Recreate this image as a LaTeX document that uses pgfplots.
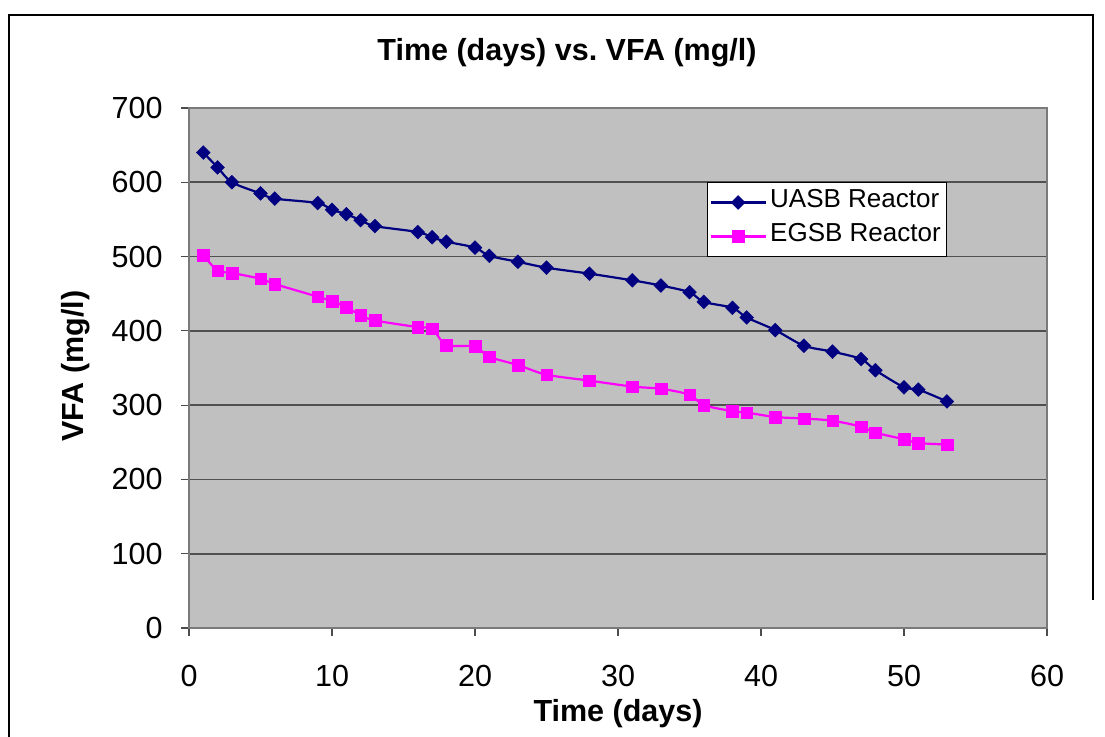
\documentclass[border=0pt]{standalone}
\usepackage{pgfplots}
\pgfplotsset{compat=1.18}
\usepackage{fontspec}
\setmainfont{Liberation Sans}
\definecolor{uasb}{HTML}{000080}
\definecolor{egsb}{HTML}{FF00FF}
\definecolor{plotbg}{HTML}{C0C0C0}
\definecolor{gridc}{HTML}{505050}
\definecolor{framec}{HTML}{7A7A7A}
\begin{document}
\begin{tikzpicture}[x=1bp,y=1bp]
\path[use as bounding box] (0,0) rectangle (1105,737);
\begin{axis}[
  at={(189bp,109bp)}, anchor=origin,
  scale only axis, width=858bp, height=520bp,
  xmin=0, xmax=60, ymin=0, ymax=700,
  xtick={0,10,...,60}, ytick={0,100,...,700},
  ymajorgrids,
  major grid style={gridc, line width=1.6bp},
  axis background/.style={fill=plotbg},
  axis line style={draw=framec, line width=1.6bp},
  tick style={black!70, line width=1.2bp},
  tick align=outside, major tick length=8bp,
  xtick pos=left, ytick pos=left,
  ticklabel style={font=\fontsize{30.5bp}{36bp}\selectfont},
  xticklabel style={yshift=-26bp},
  yticklabel style={xshift=-15bp},
  /pgf/number format/assume math mode=true,
  legend style={at={(0.6037,0.8577)}, anchor=north west, draw=black, line width=1bp,
    fill=white, font=\fontsize{26bp}{30bp}\selectfont,
    inner xsep=2bp, inner ysep=3bp,
    nodes={inner xsep=3.5bp, inner ysep=3bp, text height=19bp, text depth=9bp}},
  legend cell align=left,
  legend image code/.code={\draw[mark repeat=2, mark phase=2, #1] plot coordinates {(0bp,0bp) (27.5bp,0bp) (55bp,0bp)};},
]
\addplot[uasb, line width=2.2bp, smooth, mark=square*, mark size=4.9bp,
  mark options={solid, rotate=45, fill=uasb, line width=0.4bp}] coordinates {
(1,640) (2,620) (3,600) (5,585) (6,578) (9,572) (10,563) (11,557) (12,549) (13,541)
(16,533) (17,526) (18,520) (20,512) (21,501) (23,493) (25,485) (28,477) (31,468)
(33,461) (35,452) (36,439) (38,431) (39,418) (41,401) (43,380) (45,372) (47,362)
(48,347) (50,324) (51,321) (53,305)
};
\addlegendentry{UASB Reactor}
\addplot[egsb, line width=2.2bp, smooth, mark=square*, mark size=5.8bp,
  mark options={solid, fill=egsb, line width=0.4bp}] coordinates {
(1,502) (2,481) (3,478) (5,470) (6,463) (9,446) (10,440) (11,432) (12,421) (13,414)
(16,405) (17,403) (18,381) (20,379) (21,365) (23,354) (25,341) (28,333) (31,325)
(33,322) (35,314) (36,300) (38,292) (39,290) (41,284) (43,282) (45,279) (47,271)
(48,263) (50,254) (51,249) (53,247)
};
\addlegendentry{EGSB Reactor}
\end{axis}
\node[anchor=base, font=\bfseries\fontsize{30.5bp}{36bp}\selectfont] at (567,676) {Time (days) vs.\ VFA (mg/l)};
\node[anchor=base, font=\bfseries\fontsize{30.5bp}{36bp}\selectfont] at (618,15) {Time (days)};
\node[anchor=base, rotate=90, font=\bfseries\fontsize{30.5bp}{36bp}\selectfont] at (83,371) {VFA (mg/l)};
\draw[black, line width=2.5bp] (9,-5) -- (9,722) -- (1093,722) -- (1093,137);
\end{tikzpicture}
\end{document}
